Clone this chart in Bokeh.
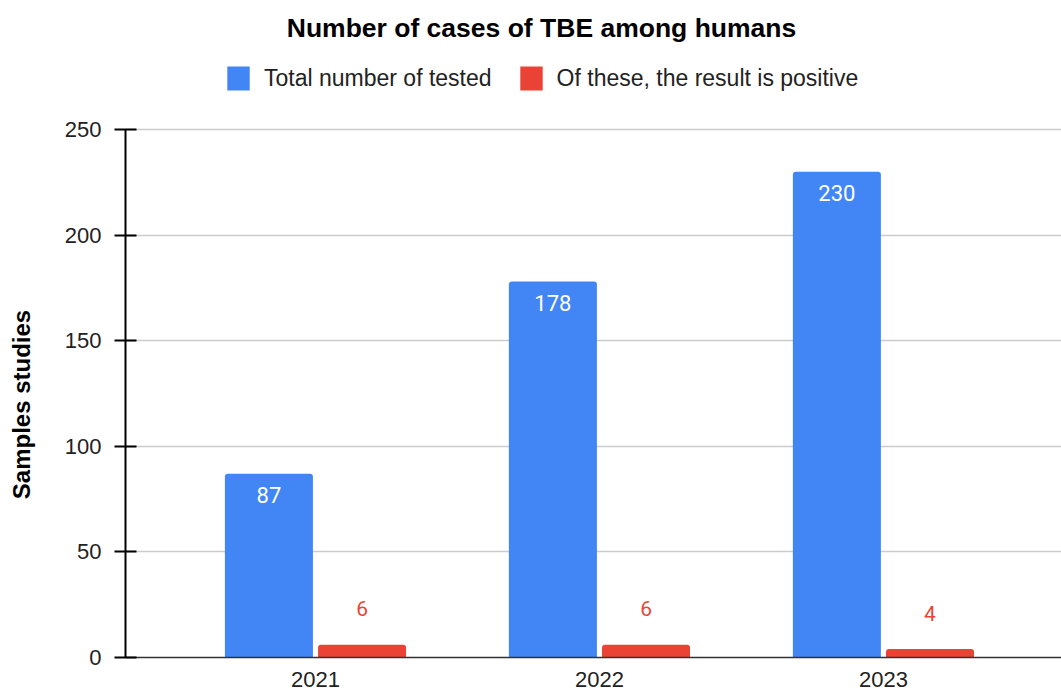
import math
from bokeh.plotting import figure
from bokeh.layouts import row
from bokeh.models import (ColumnDataSource, Range1d, FixedTicker, Legend, LegendItem,
                          Label)
from bokeh.transform import dodge
from bokeh.core.properties import value
from bokeh.embed import file_html
from bokeh.resources import INLINE

years = ["2021", "2022", "2023"]
total_tested = [87, 178, 230]
positive = [6, 6, 4]
title_text = "Number of cases of TBE among humans"
series_names = ["Total number of tested", "Of these, the result is positive"]
y_label = "Samples studies"
y_ticks = [0, 50, 100, 150, 200, 250]

BLUE = "#4285f4"
RED = "#ea4335"
FONT = "Liberation Sans"

idx = list(range(len(years)))
src = ColumnDataSource(dict(
    x=idx,
    total=total_tested,
    pos=positive,
    total_lbl=[str(v) for v in total_tested],
    pos_lbl=[str(v) for v in positive],
))

LEFT_W = 40
# main frame: x 125..1061, y 0..657 ; value 250 sits at y=129
Y_TOP = 657 / (528 / 250)
p = figure(width=1061 - LEFT_W, height=691, output_backend="svg", toolbar_location=None,
           x_range=Range1d(-0.669, 2.627), y_range=Range1d(0, Y_TOP),
           min_border_left=125 - LEFT_W, min_border_right=0, min_border_top=0,
           min_border_bottom=34)
p.outline_line_color = None
p.background_fill_color = "white"
p.border_fill_color = "white"

off = 0.164
bw = 0.31
r1 = p.vbar(x=dodge("x", -off), top="total", width=bw, bottom=0, source=src,
            fill_color=BLUE, line_color=None, border_radius=(3, 3, 0, 0))
r2 = p.vbar(x=dodge("x", off), top="pos", width=bw, bottom=0, source=src,
            fill_color=RED, line_color=None, border_radius=(3, 3, 0, 0))

p.text(x=dodge("x", -off), y="total", text="total_lbl", source=src,
       text_color="white", text_font=value("Roboto"), text_font_size="22px",
       text_align="center", text_baseline="middle", y_offset=21)
p.text(x=dodge("x", off), y="pos", text="pos_lbl", source=src,
       text_color=RED, text_font=value("Roboto"), text_font_size="21px",
       text_align="center", text_baseline="middle", y_offset=-36)

# axes
p.xaxis.ticker = FixedTicker(ticks=idx)
p.xaxis.major_label_overrides = {i: y for i, y in zip(idx, years)}
p.xaxis.major_tick_line_color = None
p.xaxis.minor_tick_line_color = None
p.xaxis.axis_line_color = "#333333"
p.xaxis.axis_line_width = 1.5
p.xaxis.major_label_text_font = FONT
p.xaxis.major_label_text_font_size = "22px"
p.xaxis.major_label_text_color = "#222222"
p.xaxis.major_label_standoff = 8

yax = p.yaxis[0]
yax.bounds = (0, 250)
yax.ticker = FixedTicker(ticks=y_ticks)
yax.minor_tick_line_color = None
yax.major_tick_in = 11
yax.major_tick_out = 11
yax.major_tick_line_width = 2
yax.major_tick_line_color = "black"
yax.axis_line_color = "black"
yax.axis_line_width = 2
yax.major_label_text_font = FONT
yax.major_label_text_font_size = "22px"
yax.major_label_text_color = "#222222"
yax.major_label_standoff = 13

p.xgrid.grid_line_color = None
p.ygrid.ticker = FixedTicker(ticks=y_ticks[1:])
p.ygrid.grid_line_color = "#cccccc"
p.ygrid.grid_line_width = 1.5

# title inside the (tall) frame
p.add_layout(Label(x=541 - 125, y=630, x_units="screen", y_units="screen", text=title_text,
                   text_font=FONT, text_font_style="bold", text_font_size="26.5px",
                   text_align="center", text_baseline="middle", text_color="black"))

legend = Legend(items=[LegendItem(label=series_names[0], renderers=[r1]),
                       LegendItem(label=series_names[1], renderers=[r2])],
                location=(99, 564), orientation="horizontal",
                glyph_width=28, glyph_height=30, label_height=30, label_width=10,
                label_standoff=12, spacing=25, padding=0, margin=0,
                border_line_color=None, background_fill_alpha=0,
                label_text_font=FONT, label_text_font_size="23px",
                label_text_color="#222222")
p.add_layout(legend, "center")

# narrow strip on the left carrying the rotated y-axis title
side = figure(width=LEFT_W, height=691, output_backend="svg", toolbar_location=None,
              x_range=Range1d(0, LEFT_W), y_range=Range1d(0, 691),
              min_border=0)
side.axis.visible = False
side.grid.grid_line_color = None
side.outline_line_color = None
side.border_fill_color = "white"
side.background_fill_color = "white"
side.add_layout(Label(x=21, y=253, x_units="screen", y_units="screen", text=y_label,
                      text_font=FONT, text_font_style="bold", text_font_size="24px",
                      text_align="center", text_baseline="middle", angle=math.pi / 2,
                      text_color="black"))

layout = row(side, p, spacing=0)
open("out.html", "w").write(file_html(layout, INLINE))
